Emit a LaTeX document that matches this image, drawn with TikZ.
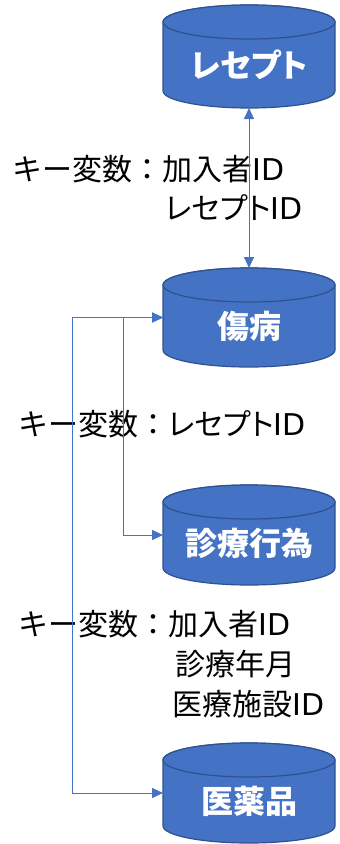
\documentclass[tikz,border=0pt]{standalone}
\usepackage{fontspec}
\setmainfont{Noto Sans CJK JP}
\newfontfamily\kanap{Noto Sans CJK JP}[RawFeature=+palt]
\newfontfamily\latinw{DejaVu Sans}
\newcommand\idtxt{{\latinw ID}}
\usetikzlibrary{arrows.meta}
\definecolor{cylfill}{HTML}{4472C4}
\definecolor{cylline}{HTML}{2F528F}
\definecolor{linkblue}{HTML}{4472C4}
\tikzset{
  cylbody/.style={fill=cylfill, draw=cylline, line width=1.2pt},
  cyltext/.style={text=white, font=\fontsize{32}{36}\selectfont\bfseries, inner sep=0pt},
  keytext/.style={text=black, font=\fontsize{30}{34}\selectfont, inner sep=0pt, anchor=west},
  link/.style={draw=linkblue, line width=1pt, {Triangle[length=11pt,width=10pt]}-{Triangle[length=11pt,width=10pt]}},
  boxhold/.style={minimum width=172pt, inner sep=0pt, outer sep=0pt}
}
% #1 name, #2 top y, #3 bottom y, #4 text
\newcommand\dbcyl[4]{%
  \path[cylbody] (163,-#2-17) -- (163,-#3+17)
     arc[start angle=180, end angle=360, x radius=86, y radius=17]
     -- (335,-#2-17)
     arc[start angle=0, end angle=180, x radius=86, y radius=17] -- cycle;
  \draw[cylbody] (249,-#2-17) ellipse[x radius=86, y radius=17];
  \node[boxhold, minimum height={(#3-#2)*1pt}] (#1) at (249,{-(#2+#3)/2}) {};
  \node[cyltext] (#1t) at (249,{-(#2+17+#3)/2}) {#4};
}
\begin{document}
\begin{tikzpicture}[x=1pt,y=1pt]
\useasboundingbox (0,0) rectangle (340,-844);
\dbcyl{rez}{5}{108}{\kanap レセプト}
\dbcyl{sho}{268}{367}{傷病}
\dbcyl{shi}{485}{585}{診療行為}
\dbcyl{iya}{743}{843}{医薬品}

\node[keytext] (k1a) at (12,-169) {キー変数：加入者\idtxt};
\node[keytext] (k1b) at (165,-208) {{\kanap レセプト}\idtxt};
\node[keytext] (k2a) at (18,-424) {キー変数：{\kanap レセプト}\idtxt};
\node[keytext] (k3a) at (18,-624) {キー変数：加入者\idtxt};
\node[keytext] (k3b) at (175,-664) {診療年月};
\node[keytext] (k3c) at (172,-704) {医療施設\idtxt};

\draw[link] (rez.south) -- (sho.north);
\draw[link] (sho.west) -- ([xshift=-40pt]sho.west) |- (shi.west);
\draw[link] (sho.west) -- ([xshift=-91pt]sho.west) |- (iya.west);
\end{tikzpicture}
\end{document}
